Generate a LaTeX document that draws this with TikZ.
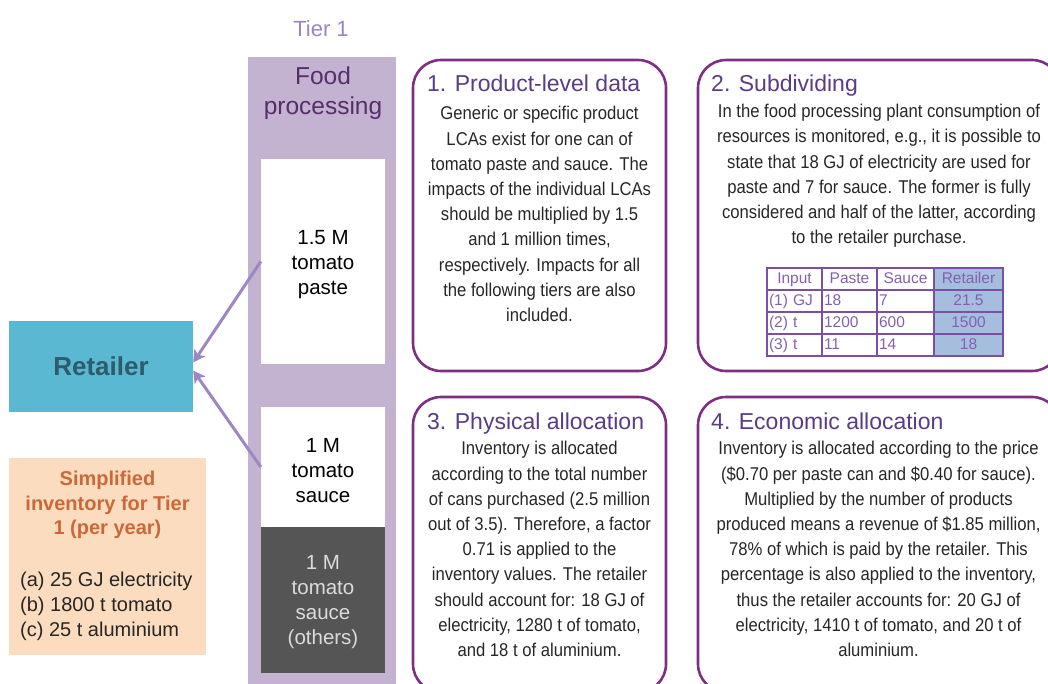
\documentclass[tikz,border=0pt]{standalone}
\usepackage{fontspec}
\setmainfont{Liberation Sans}
\newfontfamily\narrowfont[FakeStretch=0.9]{Liberation Sans}
\usepackage{xcolor}
\usetikzlibrary{arrows.meta,positioning,matrix}

\definecolor{tierpurple}{HTML}{9B85BE}
\definecolor{colpurple}{HTML}{C3B3D1}
\definecolor{foodtext}{HTML}{562E6A}
\definecolor{retailblue}{HTML}{5BB8D2}
\definecolor{retailtext}{HTML}{2D5C6B}
\definecolor{invorange}{HTML}{FCDCBE}
\definecolor{invtext}{HTML}{C9693A}
\definecolor{cardpurple}{HTML}{7E2F84}
\definecolor{titlepurple}{HTML}{5B3A86}
\definecolor{arrowpurple}{HTML}{9C87C2}
\definecolor{darkcan}{HTML}{555555}
\definecolor{tablepurple}{HTML}{7B4FA3}
\definecolor{tableblue}{HTML}{A6BEDD}
\definecolor{tabletext}{HTML}{8460B0}

\tikzset{
    stepcard/.style={draw=cardpurple, line width=2.6pt, rounded corners=28pt},
    cardtitle/.style={anchor=base west, inner sep=0pt, text=titlepurple, font=\fontsize{23}{27}\selectfont},
    cardbody/.style={align=center, inner sep=0pt, text=black!85, font=\narrowfont\fontsize{18.5}{25.2}\selectfont},
    canbox/.style={minimum width=124pt, inner sep=0pt},
    cantext/.style={align=center, inner sep=0pt, font=\fontsize{20.5}{25}\selectfont},
    flow/.style={draw=arrowpurple, line width=3pt, -{Stealth[length=12pt,width=13pt,inset=3pt]}}
}

\begin{document}
\begin{tikzpicture}[x=1pt, y=-1pt]
    \useasboundingbox (0,0) rectangle (1048,684);
    \clip (0,0) rectangle (1048,684);

    \node[text=tierpurple, font=\fontsize{22}{26}\selectfont] (tier) at (321,29) {Tier 1};
    \node[fill=colpurple, minimum width=148pt, minimum height=640pt, anchor=north] (foodproc) at (322,57) {};
    \node[text=foodtext, align=center, font=\fontsize{24.5}{30}\selectfont] (foodlabel) at (323,93) {Food\\processing};

    \node[canbox, fill=white, minimum height=205pt] (paste) at (323,261.5) {};
    \node[canbox, fill=white, minimum height=120pt] (sauce) at (323,467) {};
    \node[canbox, fill=darkcan, minimum height=146pt] (others) at (323,600) {};
    \node[cantext] (pastetext) at (323,264.5) {1.5 M\\tomato\\paste};
    \node[cantext] (saucetext) at (323,471) {1 M\\tomato\\sauce};
    \node[cantext, text=black!14] (otherstext) at (323,602.5) {1 M\\tomato\\sauce\\(others)};

    \node[fill=retailblue, text=retailtext, minimum width=184pt, minimum height=91pt, font=\bfseries\fontsize{26}{30}\selectfont] (retailer) at (101,366.5) {Retailer};

    \draw[flow] (paste.west) -- ([yshift=4pt]retailer.east);
    \draw[flow] (sauce.west) -- ([yshift=-4pt]retailer.east);

    \node[fill=invorange, minimum width=197pt, minimum height=197pt] (inventory) at (107.5,556.5) {};
    \node[text=invtext, align=center, inner sep=0pt, font=\bfseries\fontsize{20}{24.5}\selectfont] (invtitle) at (107.5,505) {Simplified\\inventory for Tier\\1 (per year)};
    \node[anchor=west, align=left, inner sep=0pt, text=black!85, font=\fontsize{20}{25}\selectfont] (invlist) at (20,606) {(a) 25 GJ electricity\\(b) 1800 t tomato\\(c) 25 t aluminium};

    \node[stepcard, minimum width=253pt, minimum height=311pt] (product) at (539.5,215.5) {};
    \node[stepcard, minimum width=362pt, minimum height=311pt] (subdividing) at (879,215.5) {};
    \node[stepcard, minimum width=253pt, minimum height=295pt] (physical) at (539.5,544.5) {};
    \node[stepcard, minimum width=362pt, minimum height=295pt] (economic) at (879,544.5) {};

    \node[cardtitle] (producttitle) at (427,92) {1. Product-level data};
    \node[cardtitle] (subdividingtitle) at (711,92) {2. Subdividing};
    \node[cardtitle] (physicaltitle) at (427,429) {3. Physical allocation};
    \node[cardtitle] (economictitle) at (711,429) {4. Economic allocation};

    \node[cardbody] (productbody) at (539.5,214) {Generic or specific product\\LCAs exist for one can of\\tomato paste and sauce. The\\impacts of the individual LCAs\\should be multiplied by 1.5\\and 1 million times,\\respectively. Impacts for all\\the following tiers are also\\included.};
    \node[cardbody] (subdividingbody) at (879,176) {In the food processing plant consumption of\\resources is monitored, e.g., it is possible to\\state that 18 GJ of electricity are used for\\paste and 7 for sauce. The former is fully\\considered and half of the latter, according\\to the retailer purchase.};
    \node[cardbody] (physicalbody) at (539.5,549) {Inventory is allocated\\according to the total number\\of cans purchased (2.5 million\\out of 3.5). Therefore, a factor\\0.71 is applied to the\\inventory values. The retailer\\should account for: 18 GJ of\\electricity, 1280 t of tomato,\\and 18 t of aluminium.};
    \node[cardbody] (economicbody) at (878.5,549) {Inventory is allocated according to the price\\(\$0.70 per paste can and \$0.40 for sauce).\\Multiplied by the number of products\\produced means a revenue of \$1.85 million,\\78\% of which is paid by the retailer. This\\percentage is also applied to the inventory,\\thus the retailer accounts for: 20 GJ of\\electricity, 1410 t of tomato, and 20 t of\\aluminium.};

    \matrix[matrix of nodes, column sep=-1.2pt, row sep=-1.2pt,
        nodes={draw=tablepurple, line width=1.2pt, text=tabletext, font=\fontsize{15.5}{18}\selectfont, text height=11pt, text depth=3pt, inner xsep=2pt, inner ysep=4pt, align=left},
        column 1/.style={nodes={text width=51pt}},
        column 2/.style={nodes={text width=51pt}},
        column 3/.style={nodes={text width=53pt}},
        column 4/.style={nodes={text width=65pt, align=center, fill=tableblue}},
        row 1/.style={nodes={align=center}}] (usage) at (885,312) {
        Input & Paste & Sauce & Retailer \\
        (1) GJ & 18 & 7 & 21.5 \\
        (2) t & 1200 & 600 & 1500 \\
        (3) t & 11 & 14 & 18 \\
    };
\end{tikzpicture}
\end{document}
